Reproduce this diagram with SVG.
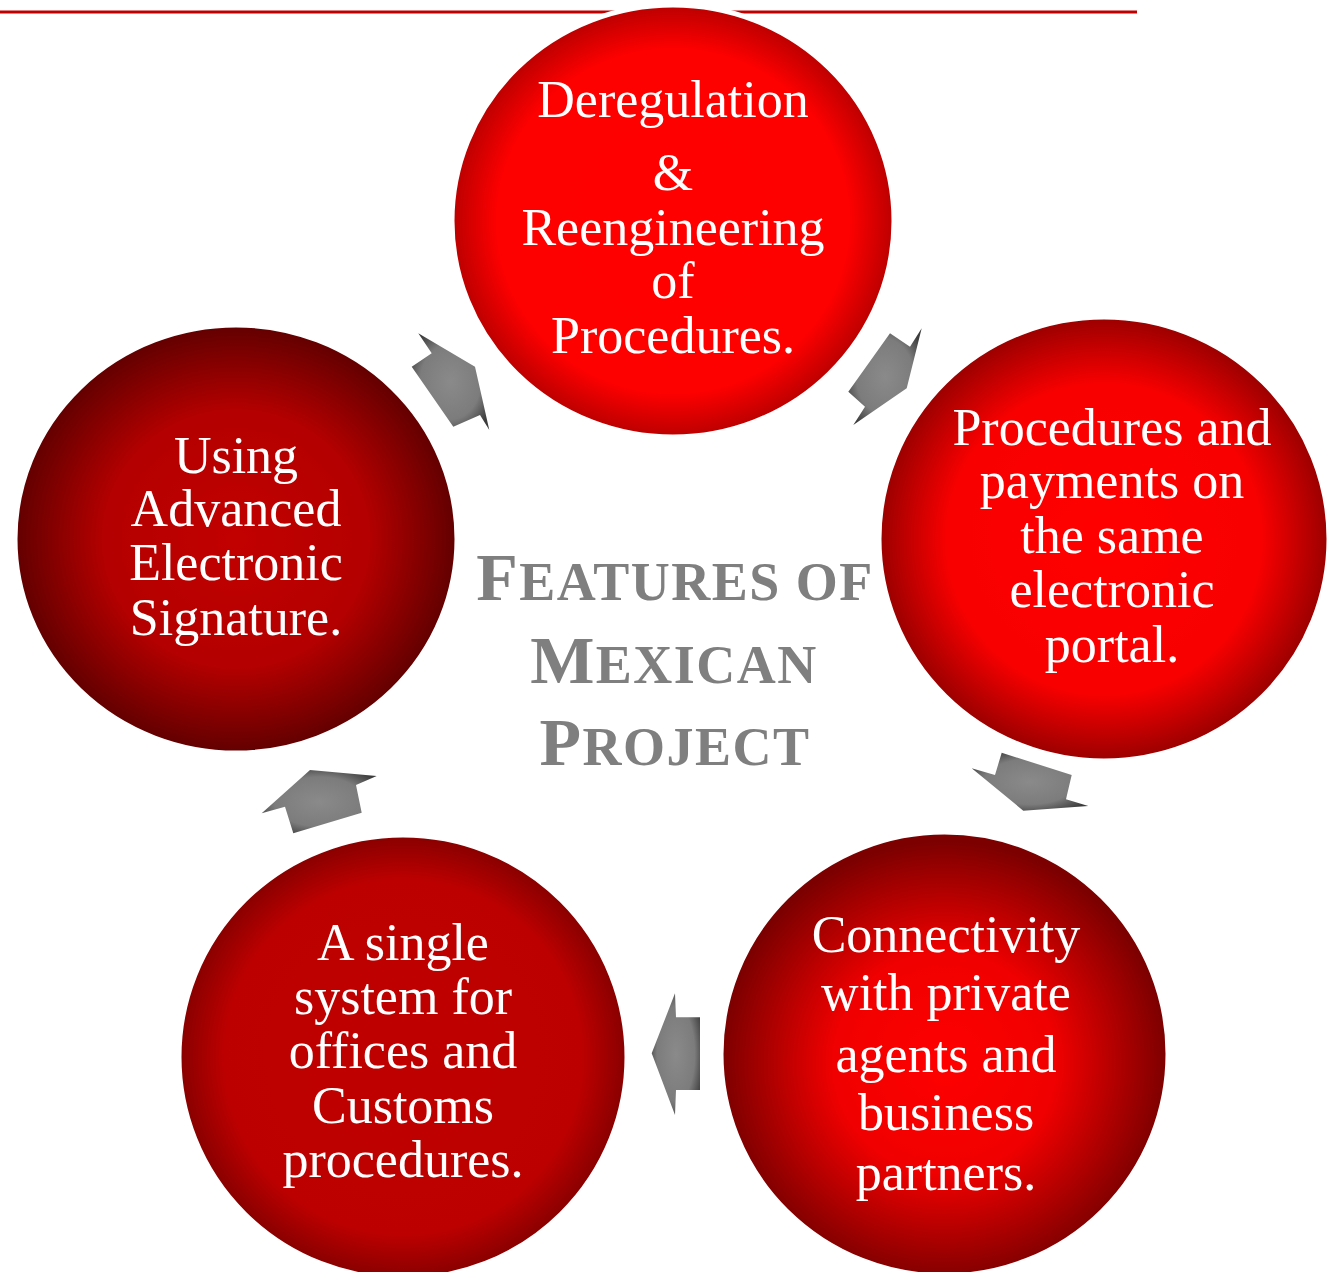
<svg xmlns="http://www.w3.org/2000/svg" width="1330" height="1272" viewBox="0 0 1330 1272">
<style>
.node-text{font-family:"Liberation Serif","Times New Roman",serif;font-size:52px;fill:#ffffff;text-anchor:middle}
.title{font-family:"Liberation Serif","Times New Roman",serif;font-weight:bold;fill:#7f7f7f;text-anchor:middle;letter-spacing:1.5px}
.big{font-size:68px}
.sm{font-size:54px}
.circ{stroke:#ffffff;stroke-width:5}
.arrow{fill:url(#gArrow)}
</style>
<defs>
<radialGradient id="gTop" cx="0.5" cy="0.5" r="0.5">
<stop offset="0" stop-color="#ff0000"/><stop offset="0.8" stop-color="#fd0000"/><stop offset="1" stop-color="#bb0000"/>
</radialGradient>
<radialGradient id="gRight" cx="0.5" cy="0.5" r="0.5">
<stop offset="0" stop-color="#ff0000"/><stop offset="0.7" stop-color="#f80000"/><stop offset="1" stop-color="#9a0000"/>
</radialGradient>
<radialGradient id="gBR" cx="0.5" cy="0.52" r="0.5">
<stop offset="0" stop-color="#ff0000"/><stop offset="0.5" stop-color="#f00000"/><stop offset="1" stop-color="#7c0000"/>
</radialGradient>
<radialGradient id="gBL" cx="0.5" cy="0.5" r="0.5">
<stop offset="0" stop-color="#c00000"/><stop offset="0.8" stop-color="#bc0000"/><stop offset="1" stop-color="#880000"/>
</radialGradient>
<radialGradient id="gLeft" cx="0.5" cy="0.5" r="0.5">
<stop offset="0" stop-color="#c20000"/><stop offset="0.6" stop-color="#b40000"/><stop offset="1" stop-color="#620000"/>
</radialGradient>
<radialGradient id="gArrow" cx="0.5" cy="0.5" r="0.6">
<stop offset="0" stop-color="#8a8a8a"/><stop offset="0.65" stop-color="#7c7c7c"/><stop offset="1" stop-color="#3c3c3c"/>
</radialGradient>
</defs>
<line x1="0" y1="12" x2="1137" y2="12" stroke="#c00000" stroke-width="3"/>
<g id="connectors">
<polygon class="arrow" points="418.3,333.3 431.7,353.3 411.7,366.7 453.3,426.7 480,415 489.3,430 475,366.7"/>
<polygon class="arrow" points="890,333.3 910,346.7 921.7,328.3 906.7,388.3 853.3,425 865,406.7 848.3,391.7"/>
<polygon class="arrow" points="971.7,768.3 995,775 1001.7,752.7 1071.7,775 1066,799.3 1088.3,806 1023.3,810.7"/>
<polygon class="arrow" points="675,993.3 676,1017.3 700,1017.3 700,1090 676,1090 675,1115 651.7,1053.3"/>
<polygon class="arrow" points="261.7,813.3 310,770 376.7,776 356,785 361.7,812.7 293.3,833.3 285,806.7"/>
</g>
<g id="node-top">
<ellipse class="circ" cx="673" cy="221" rx="221" ry="216" fill="url(#gTop)"/>
<text class="node-text"><tspan x="673" y="117">Deregulation</tspan><tspan x="673" y="190">&amp;</tspan><tspan x="673" y="245">Reengineering</tspan><tspan x="673" y="298">of</tspan><tspan x="673" y="353">Procedures.</tspan></text>
</g>
<g id="node-right">
<ellipse class="circ" cx="1104" cy="539" rx="225" ry="222" fill="url(#gRight)"/>
<text class="node-text"><tspan x="1112" y="445">Procedures and</tspan><tspan x="1112" y="498">payments on</tspan><tspan x="1112" y="553">the same</tspan><tspan x="1112" y="607">electronic</tspan><tspan x="1112" y="662">portal.</tspan></text>
</g>
<g id="node-bottom-right">
<ellipse class="circ" cx="944.5" cy="1054" rx="223.5" ry="222" fill="url(#gBR)"/>
<text class="node-text"><tspan x="946" y="952">Connectivity</tspan><tspan x="946" y="1010">with private</tspan><tspan x="946" y="1072">agents and</tspan><tspan x="946" y="1130">business</tspan><tspan x="946" y="1190">partners.</tspan></text>
</g>
<g id="node-bottom-left">
<ellipse class="circ" cx="403" cy="1057" rx="224" ry="222" fill="url(#gBL)"/>
<text class="node-text"><tspan x="403" y="960">A single</tspan><tspan x="403" y="1014">system for</tspan><tspan x="403" y="1068">offices and</tspan><tspan x="403" y="1123">Customs</tspan><tspan x="403" y="1177">procedures.</tspan></text>
</g>
<g id="node-left">
<ellipse class="circ" cx="236" cy="539" rx="221" ry="214" fill="url(#gLeft)"/>
<text class="node-text"><tspan x="236" y="473">Using</tspan><tspan x="236" y="526">Advanced</tspan><tspan x="236" y="580">Electronic</tspan><tspan x="236" y="635">Signature.</tspan></text>
</g>
<g id="title">
<text class="title" x="675" y="600"><tspan class="big">F</tspan><tspan class="sm">EATURES OF</tspan></text>
<text class="title" x="674" y="683"><tspan class="big">M</tspan><tspan class="sm">EXICAN</tspan></text>
<text class="title" x="675" y="765"><tspan class="big">P</tspan><tspan class="sm">ROJECT</tspan></text>
</g>
</svg>
